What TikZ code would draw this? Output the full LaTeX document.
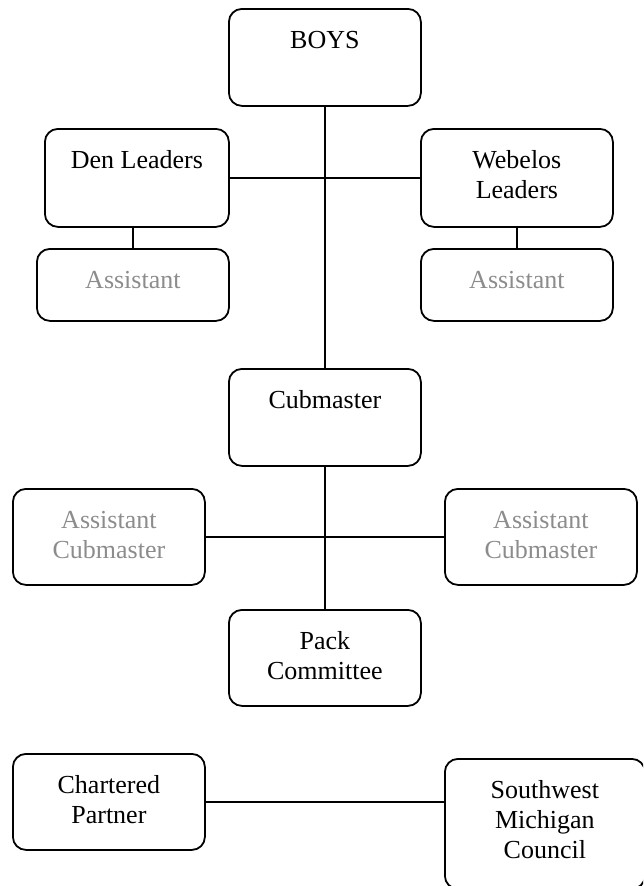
\documentclass[tikz,border=0pt]{standalone}
\usepackage{fontspec}
\setmainfont{Liberation Serif}
\usepackage{tikz}
\definecolor{asstgray}{RGB}{140,140,140}
% label box: width, height, text (top aligned)
\newcommand{\boxlabel}[3]{\parbox[c][#2][t]{#1}{\centering\vspace*{19pt}\strut #3}}

\begin{document}
\begin{tikzpicture}[x=1pt,y=-1pt,
  unit/.style={draw,line width=1.8pt,rounded corners=13pt,inner sep=0pt,
    anchor=north west,font=\fontsize{26}{30}\selectfont},
  assist/.style={unit,text=asstgray},
  link/.style={line width=1.8pt}]
\useasboundingbox (0,0) rectangle (643,886);
\clip (0,0) rectangle (643,886);

% boys and leaders
\node[unit] (boys) at (228,8) {\boxlabel{192pt}{97pt}{BOYS}};
\node[unit] (den) at (44,128) {\boxlabel{184pt}{98pt}{Den Leaders}};
\node[unit] (webelos) at (420,128) {\boxlabel{192pt}{98pt}{Webelos\\Leaders}};
\node[assist] (asstL) at (36,248) {\boxlabel{192pt}{72pt}{Assistant}};
\node[assist] (asstR) at (420,248) {\boxlabel{192pt}{72pt}{Assistant}};

% cubmaster and committee
\node[unit] (cub) at (228,368) {\boxlabel{192pt}{97pt}{Cubmaster}};
\node[assist] (acubL) at (12,488) {\boxlabel{192pt}{96pt}{Assistant\\Cubmaster}};
\node[assist] (acubR) at (444,488) {\boxlabel{192pt}{96pt}{Assistant\\Cubmaster}};
\node[unit] (pack) at (228,609) {\boxlabel{192pt}{96pt}{Pack\\Committee}};

% charter
\node[unit] (chartered) at (12,753) {\boxlabel{192pt}{96pt}{Chartered\\Partner}};
\node[unit] (council) at (444,758) {\boxlabel{200pt}{130pt}{Southwest\\Michigan\\Council}};

\draw[link] (boys.south) -- (cub.north);
\draw[link] (den.east) -- (webelos.west);
\draw[link] (asstL.north) -- (asstL.north |- den.south);
\draw[link] (webelos.south) -- (asstR.north);
\draw[link] (cub.south) -- (pack.north);
\draw[link] (acubL.east) -- (acubR.west);
\draw[link] (chartered.east) -- (council.west |- chartered.east);
\end{tikzpicture}
\end{document}
